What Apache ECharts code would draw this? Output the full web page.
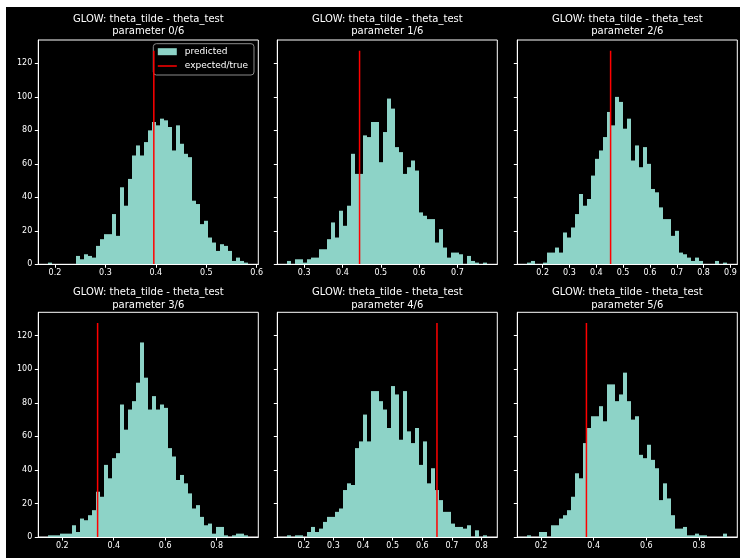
<!DOCTYPE html>
<html>
<head>
<meta charset="utf-8">
<script src="https://cdn.jsdelivr.net/npm/echarts@6/dist/echarts.min.js"></script>
<style>
html,body{margin:0;padding:0;background:#fff;width:740px;height:558px;overflow:hidden;}
#c{position:absolute;left:6px;top:7px;width:734px;height:551px;}
</style>
</head>
<body>
<div id="c"></div>
<script>
// ---- data ----
const titleLine1 = 'GLOW: theta_tilde - theta_test';
const titleLine2 = ['parameter 0/6','parameter 1/6','parameter 2/6','parameter 3/6','parameter 4/6','parameter 5/6'];
const binStarts = [0.1868, 0.2560, 0.1429, 0.1456, 0.1441, 0.1479];
const binWidths = [0.00793, 0.01044, 0.01491, 0.01555, 0.01351, 0.01520];
const counts0 = [1,0,0,0,0,0,0,5,3,6,5,4,11,15,18,18,30,17,46,35,51,65,71,65,73,80,85,83,87,86,82,68,83,72,66,64,38,36,24,26,16,13,8,12,11,8,2,4,2,1];
const counts1 = [2,0,3,3,1,3,4,4,9,9,15,25,16,32,23,35,66,54,54,77,76,85,85,61,79,99,93,70,67,54,58,62,56,31,29,27,27,13,21,10,4,7,7,6,0,5,2,1,0,1];
const counts2 = [1,2,0,0,1,7,7,10,7,19,16,22,30,42,35,39,53,63,68,76,91,83,100,97,81,87,62,71,58,70,60,45,43,34,27,27,17,20,7,6,4,2,4,2,0,0,0,2,0,1];
const counts3 = [1,1,1,2,2,2,7,3,11,10,13,16,27,24,43,35,47,50,79,64,76,81,92,116,95,76,84,76,79,77,53,48,34,37,32,26,17,19,12,7,8,2,6,6,1,0,1,2,2,1];
const counts4 = [1,0,1,1,0,3,6,3,5,9,12,12,15,17,28,32,31,53,57,73,57,87,87,81,76,65,90,85,58,87,63,56,65,43,57,32,41,28,22,15,15,8,6,6,5,7,0,4,0,1];
const counts5 = [1,0,0,3,3,0,7,7,11,13,16,24,38,35,56,65,72,72,78,69,91,91,81,85,98,81,70,72,49,47,55,46,41,22,32,23,13,5,5,6,1,1,2,1,1,0,0,0,0,2];
const expectedValues = [0.396, 0.4446, 0.4534, 0.3373, 0.6496, 0.3726];
const lineTop = 127.6;
const xTickValues = [
  [0.2,0.3,0.4,0.5,0.6],
  [0.3,0.4,0.5,0.6,0.7],
  [0.2,0.3,0.4,0.5,0.6,0.7,0.8,0.9],
  [0.2,0.4,0.6,0.8],
  [0.2,0.3,0.4,0.5,0.6,0.7,0.8],
  [0.2,0.4,0.6,0.8]
];
const yTickValues = [0,20,40,60,80,100,120];
// ---- layout ----
const allCounts = [counts0,counts1,counts2,counts3,counts4,counts5];
const gridLefts = [32.3, 271.3, 511.3];
const gridTops = [33, 305.3];
const gridW = 220, gridH = [224.3, 224.7];
const FONT = 'DejaVu Sans';
const barColor = '#8dd3c7';
const lineColor = '#ff0000';
const yMax = lineTop * 1.05;

const grids = [], xAxes = [], yAxes = [], series = [], titles = [];
for (let i = 0; i < 6; i++) {
  const r = Math.floor(i / 3), c = i % 3;
  grids.push({left: gridLefts[c], top: gridTops[r], width: gridW, height: gridH[r],
    show: true, borderColor: '#ffffff', borderWidth: 1, backgroundColor: 'transparent'});
  const n = allCounts[i].length;
  const dmin = binStarts[i], dmax = binStarts[i] + n * binWidths[i];
  const pad = 0.05 * (dmax - dmin);
  xAxes.push({gridIndex: i, type: 'value', min: dmin - pad, max: dmax + pad, z: 5,
    axisLine: {show: true, onZero: false, lineStyle: {color: '#ffffff', width: 1}},
    axisTick: {show: true, customValues: xTickValues[i], length: 3.5, lineStyle: {color: '#ffffff'}},
    axisLabel: {show: true, customValues: xTickValues[i], formatter: v => v.toFixed(1), color: '#ffffff', fontSize: 8, fontFamily: FONT, margin: 5},
    splitLine: {show: false}});
  yAxes.push({gridIndex: i, type: 'value', min: 0, max: yMax, z: 5,
    axisLine: {show: true, onZero: false, lineStyle: {color: '#ffffff', width: 1}},
    axisTick: {show: true, customValues: yTickValues, length: 3.5, lineStyle: {color: '#ffffff'}},
    axisLabel: {show: c === 0, customValues: yTickValues, color: '#ffffff', fontSize: 8, fontFamily: FONT, margin: 6},
    splitLine: {show: false}});
  const data = allCounts[i].map((v, k) => [binStarts[i] + k * binWidths[i], binStarts[i] + (k + 1) * binWidths[i], v]);
  series.push({name: 'predicted', type: 'custom', xAxisIndex: i, yAxisIndex: i, z: 2,
    itemStyle: {color: barColor},
    encode: {x: [0, 1], y: 2},
    data: data,
    renderItem: function (params, api) {
      const p0 = api.coord([api.value(0), 0]);
      const p1 = api.coord([api.value(1), api.value(2)]);
      const xa = Math.round(p0[0]), xb = Math.round(p1[0]);
      return {type: 'rect', shape: {x: xa, y: p1[1], width: xb - xa, height: p0[1] - p1[1]},
        style: {fill: barColor}};
    }});
  series.push({name: 'expected/true', type: 'line', xAxisIndex: i, yAxisIndex: i, z: 4,
    symbol: 'none', showSymbol: false, silent: true,
    lineStyle: {color: lineColor, width: 1.5}, itemStyle: {color: lineColor},
    data: [[expectedValues[i], 0], [expectedValues[i], lineTop]]});
  titles.push({text: titleLine1 + '\n' + titleLine2[i], left: gridLefts[c] + gridW / 2, top: r === 0 ? 5.8 : 279,
    textAlign: 'center', padding: 0,
    textStyle: {color: '#ffffff', fontSize: 10, fontWeight: 'normal', fontFamily: FONT, lineHeight: 12.7}});
}

const chart = echarts.init(document.getElementById('c'), null, {renderer: 'canvas'});
chart.setOption({
  backgroundColor: '#000000',
  animation: false,
  title: titles,
  grid: grids,
  xAxis: xAxes,
  yAxis: yAxes,
  legend: {
    left: 147.3, top: 36.7, orient: 'vertical', selectedMode: false,
    padding: [2.5, 6, 3.5, 4.5], itemGap: 3.3, itemWidth: 19, itemHeight: 7,
    borderColor: '#8a8a8a', borderWidth: 1, borderRadius: 3, backgroundColor: 'rgba(0,0,0,0.8)',
    textStyle: {color: '#ffffff', fontSize: 9, fontFamily: FONT, lineHeight: 11, padding: [0, 0, 0, 3]},
    data: [{name: 'predicted', icon: 'rect'},
           {name: 'expected/true', icon: 'path://M0,0 L19,0 L19,1.5 L0,1.5 Z', itemStyle: {color: lineColor}}]
  },
  series: series
});
</script>
</body>
</html>
